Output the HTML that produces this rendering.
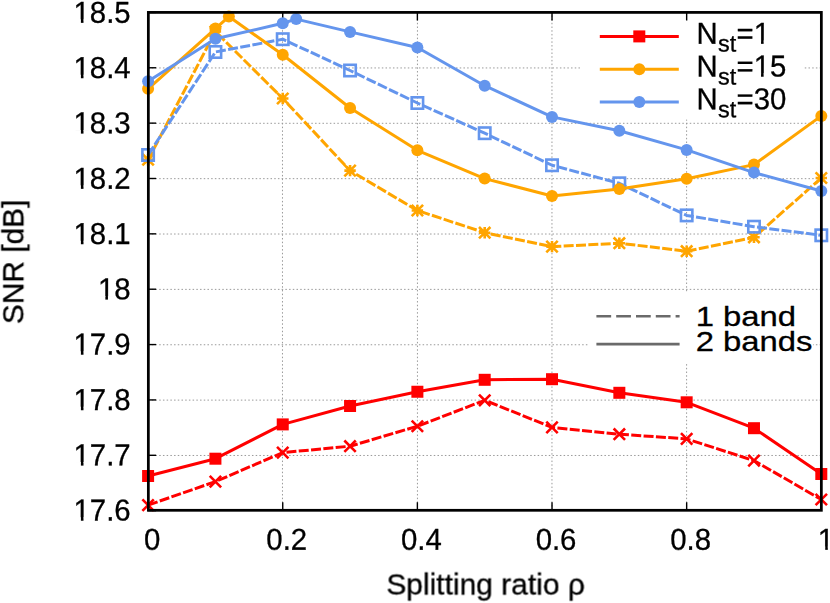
<!DOCTYPE html>
<html lang="en"><head><meta charset="utf-8"><title>SNR vs splitting ratio</title>
<style>
html,body{margin:0;padding:0;background:#fff;}
body{width:830px;height:603px;overflow:hidden;}
svg{display:block;font-family:"Liberation Sans",sans-serif;}
text{font-family:"Liberation Sans",sans-serif;fill:#000;stroke:#000;stroke-width:0.3px;}
</style></head><body>
<svg width="830" height="603" viewBox="0 0 830 603">
<defs><filter id="gray" x="-5%" y="-5%" width="110%" height="110%" color-interpolation-filters="sRGB"><feColorMatrix type="saturate" values="0"/></filter></defs>
<rect x="0" y="0" width="830" height="603" fill="#fff"/>
<g stroke="#9a9a9a" stroke-width="1" stroke-dasharray="1.5 2.21" fill="none">
<path d="M148.10,455.47H821.30"/>
<path d="M148.10,400.11H821.30"/>
<path d="M148.10,344.75H821.30"/>
<path d="M148.10,289.39H821.30"/>
<path d="M148.10,234.03H821.30"/>
<path d="M148.10,178.67H821.30"/>
<path d="M148.10,123.31H821.30"/>
<path d="M148.10,67.95H821.30"/>
<path d="M282.47,510.30V12.40"/>
<path d="M417.45,510.30V12.40"/>
<path d="M551.96,510.30V12.40"/>
<path d="M686.60,510.30V12.40"/>
</g>
<rect x="582" y="14" width="221" height="105.5" fill="#fff"/>
<rect x="588" y="291.5" width="225" height="72.5" fill="#fff"/>
<g stroke="#000" stroke-width="1.4" fill="none">
<path d="M148.10,510.65h8"/>
<path d="M148.10,455.29h8"/>
<path d="M148.10,399.93h8"/>
<path d="M148.10,344.57h8"/>
<path d="M148.10,289.21h8"/>
<path d="M148.10,233.85h8"/>
<path d="M148.10,178.49h8"/>
<path d="M148.10,123.13h8"/>
<path d="M148.10,67.77h8"/>
<path d="M148.10,12.41h8"/>
<path d="M148.10,510.30v-8M148.10,12.40v8"/>
<path d="M282.74,510.30v-8M282.74,12.40v8"/>
<path d="M417.38,510.30v-8M417.38,12.40v8"/>
<path d="M552.02,510.30v-8M552.02,12.40v8"/>
<path d="M686.66,510.30v-8M686.66,12.40v8"/>
<path d="M821.30,510.30v-8M821.30,12.40v8"/>
</g>
<g stroke-linecap="butt">
<path d="M148.10,505.10 L215.42,481.60 L282.74,452.60 L350.06,446.20 L417.38,426.25 L484.70,400.30 L552.02,427.40 L619.34,434.20 L686.66,438.90 L753.98,460.60 L821.30,499.50" fill="none" stroke="#ff0000" stroke-width="3.0" stroke-linejoin="round" stroke-dasharray="10 2.36" stroke-dashoffset="0"/>
<path d="M142.40,499.40L153.80,510.80M142.40,510.80L153.80,499.40" stroke="#ff0000" stroke-width="2.6" fill="none"/>
<path d="M209.72,475.90L221.12,487.30M209.72,487.30L221.12,475.90" stroke="#ff0000" stroke-width="2.6" fill="none"/>
<path d="M277.04,446.90L288.44,458.30M277.04,458.30L288.44,446.90" stroke="#ff0000" stroke-width="2.6" fill="none"/>
<path d="M344.36,440.50L355.76,451.90M344.36,451.90L355.76,440.50" stroke="#ff0000" stroke-width="2.6" fill="none"/>
<path d="M411.68,420.55L423.08,431.95M411.68,431.95L423.08,420.55" stroke="#ff0000" stroke-width="2.6" fill="none"/>
<path d="M479.00,394.60L490.40,406.00M479.00,406.00L490.40,394.60" stroke="#ff0000" stroke-width="2.6" fill="none"/>
<path d="M546.32,421.70L557.72,433.10M546.32,433.10L557.72,421.70" stroke="#ff0000" stroke-width="2.6" fill="none"/>
<path d="M613.64,428.50L625.04,439.90M613.64,439.90L625.04,428.50" stroke="#ff0000" stroke-width="2.6" fill="none"/>
<path d="M680.96,433.20L692.36,444.60M680.96,444.60L692.36,433.20" stroke="#ff0000" stroke-width="2.6" fill="none"/>
<path d="M748.28,454.90L759.68,466.30M748.28,466.30L759.68,454.90" stroke="#ff0000" stroke-width="2.6" fill="none"/>
<path d="M815.60,493.80L827.00,505.20M815.60,505.20L827.00,493.80" stroke="#ff0000" stroke-width="2.6" fill="none"/>
<path d="M148.10,159.70 L215.42,31.50 L282.74,98.50 L350.06,170.60 L417.38,210.50 L484.70,232.70 L552.02,246.60 L619.34,243.20 L686.66,251.20 L753.98,237.30 L821.30,178.00" fill="none" stroke="#ffa500" stroke-width="3.0" stroke-linejoin="round" stroke-dasharray="10 2.36" stroke-dashoffset="0.6"/>
<path d="M142.40,159.70L153.80,159.70M148.10,154.00L148.10,165.40M142.40,154.00L153.80,165.40M142.40,165.40L153.80,154.00" stroke="#ffa500" stroke-width="2.6" fill="none"/>
<path d="M209.72,31.50L221.12,31.50M215.42,25.80L215.42,37.20M209.72,25.80L221.12,37.20M209.72,37.20L221.12,25.80" stroke="#ffa500" stroke-width="2.6" fill="none"/>
<path d="M277.04,98.50L288.44,98.50M282.74,92.80L282.74,104.20M277.04,92.80L288.44,104.20M277.04,104.20L288.44,92.80" stroke="#ffa500" stroke-width="2.6" fill="none"/>
<path d="M344.36,170.60L355.76,170.60M350.06,164.90L350.06,176.30M344.36,164.90L355.76,176.30M344.36,176.30L355.76,164.90" stroke="#ffa500" stroke-width="2.6" fill="none"/>
<path d="M411.68,210.50L423.08,210.50M417.38,204.80L417.38,216.20M411.68,204.80L423.08,216.20M411.68,216.20L423.08,204.80" stroke="#ffa500" stroke-width="2.6" fill="none"/>
<path d="M479.00,232.70L490.40,232.70M484.70,227.00L484.70,238.40M479.00,227.00L490.40,238.40M479.00,238.40L490.40,227.00" stroke="#ffa500" stroke-width="2.6" fill="none"/>
<path d="M546.32,246.60L557.72,246.60M552.02,240.90L552.02,252.30M546.32,240.90L557.72,252.30M546.32,252.30L557.72,240.90" stroke="#ffa500" stroke-width="2.6" fill="none"/>
<path d="M613.64,243.20L625.04,243.20M619.34,237.50L619.34,248.90M613.64,237.50L625.04,248.90M613.64,248.90L625.04,237.50" stroke="#ffa500" stroke-width="2.6" fill="none"/>
<path d="M680.96,251.20L692.36,251.20M686.66,245.50L686.66,256.90M680.96,245.50L692.36,256.90M680.96,256.90L692.36,245.50" stroke="#ffa500" stroke-width="2.6" fill="none"/>
<path d="M748.28,237.30L759.68,237.30M753.98,231.60L753.98,243.00M748.28,231.60L759.68,243.00M748.28,243.00L759.68,231.60" stroke="#ffa500" stroke-width="2.6" fill="none"/>
<path d="M815.60,178.00L827.00,178.00M821.30,172.30L821.30,183.70M815.60,172.30L827.00,183.70M815.60,183.70L827.00,172.30" stroke="#ffa500" stroke-width="2.6" fill="none"/>
<path d="M148.10,155.00 L215.42,52.00 L282.74,39.20 L350.06,70.50 L417.38,103.00 L484.70,133.20 L552.02,165.25 L619.34,183.30 L686.66,215.40 L753.98,226.70 L821.30,235.30" fill="none" stroke="#6495ed" stroke-width="3.0" stroke-linejoin="round" stroke-dasharray="10 2.36" stroke-dashoffset="0"/>
<rect x="142.40" y="149.30" width="11.4" height="11.4" fill="none" stroke="#6495ed" stroke-width="2.6"/>
<rect x="209.72" y="46.30" width="11.4" height="11.4" fill="none" stroke="#6495ed" stroke-width="2.6"/>
<rect x="277.04" y="33.50" width="11.4" height="11.4" fill="none" stroke="#6495ed" stroke-width="2.6"/>
<rect x="344.36" y="64.80" width="11.4" height="11.4" fill="none" stroke="#6495ed" stroke-width="2.6"/>
<rect x="411.68" y="97.30" width="11.4" height="11.4" fill="none" stroke="#6495ed" stroke-width="2.6"/>
<rect x="479.00" y="127.50" width="11.4" height="11.4" fill="none" stroke="#6495ed" stroke-width="2.6"/>
<rect x="546.32" y="159.55" width="11.4" height="11.4" fill="none" stroke="#6495ed" stroke-width="2.6"/>
<rect x="613.64" y="177.60" width="11.4" height="11.4" fill="none" stroke="#6495ed" stroke-width="2.6"/>
<rect x="680.96" y="209.70" width="11.4" height="11.4" fill="none" stroke="#6495ed" stroke-width="2.6"/>
<rect x="748.28" y="221.00" width="11.4" height="11.4" fill="none" stroke="#6495ed" stroke-width="2.6"/>
<rect x="815.60" y="229.60" width="11.4" height="11.4" fill="none" stroke="#6495ed" stroke-width="2.6"/>
<path d="M148.10,476.00 L215.42,458.70 L282.74,424.40 L350.06,406.00 L417.38,391.75 L484.70,379.80 L552.02,379.20 L619.34,392.80 L686.66,402.30 L753.98,428.20 L821.30,474.00" fill="none" stroke="#ff0000" stroke-width="3.0" stroke-linejoin="round"/>
<rect x="142.10" y="470.00" width="12.0" height="12.0" fill="#ff0000"/>
<rect x="209.42" y="452.70" width="12.0" height="12.0" fill="#ff0000"/>
<rect x="276.74" y="418.40" width="12.0" height="12.0" fill="#ff0000"/>
<rect x="344.06" y="400.00" width="12.0" height="12.0" fill="#ff0000"/>
<rect x="411.38" y="385.75" width="12.0" height="12.0" fill="#ff0000"/>
<rect x="478.70" y="373.80" width="12.0" height="12.0" fill="#ff0000"/>
<rect x="546.02" y="373.20" width="12.0" height="12.0" fill="#ff0000"/>
<rect x="613.34" y="386.80" width="12.0" height="12.0" fill="#ff0000"/>
<rect x="680.66" y="396.30" width="12.0" height="12.0" fill="#ff0000"/>
<rect x="747.98" y="422.20" width="12.0" height="12.0" fill="#ff0000"/>
<rect x="815.30" y="468.00" width="12.0" height="12.0" fill="#ff0000"/>
<path d="M148.10,88.80 L215.42,28.60 L228.88,16.55 L282.74,54.80 L350.06,108.05 L417.38,150.30 L484.70,178.60 L552.02,196.00 L619.34,188.90 L686.66,178.70 L753.98,164.60 L821.30,115.90" fill="none" stroke="#ffa500" stroke-width="3.0" stroke-linejoin="round"/>
<circle cx="148.10" cy="88.80" r="6.0" fill="#ffa500"/>
<circle cx="215.42" cy="28.60" r="6.0" fill="#ffa500"/>
<circle cx="228.88" cy="16.55" r="6.0" fill="#ffa500"/>
<circle cx="282.74" cy="54.80" r="6.0" fill="#ffa500"/>
<circle cx="350.06" cy="108.05" r="6.0" fill="#ffa500"/>
<circle cx="417.38" cy="150.30" r="6.0" fill="#ffa500"/>
<circle cx="484.70" cy="178.60" r="6.0" fill="#ffa500"/>
<circle cx="552.02" cy="196.00" r="6.0" fill="#ffa500"/>
<circle cx="619.34" cy="188.90" r="6.0" fill="#ffa500"/>
<circle cx="686.66" cy="178.70" r="6.0" fill="#ffa500"/>
<circle cx="753.98" cy="164.60" r="6.0" fill="#ffa500"/>
<circle cx="821.30" cy="115.90" r="6.0" fill="#ffa500"/>
<path d="M148.10,81.20 L215.42,38.80 L282.74,23.30 L296.20,19.10 L350.06,31.90 L417.38,47.45 L484.70,85.70 L552.02,116.90 L619.34,130.80 L686.66,149.90 L753.98,172.60 L821.30,191.00" fill="none" stroke="#6495ed" stroke-width="3.0" stroke-linejoin="round"/>
<circle cx="148.10" cy="81.20" r="6.0" fill="#6495ed"/>
<circle cx="215.42" cy="38.80" r="6.0" fill="#6495ed"/>
<circle cx="282.74" cy="23.30" r="6.0" fill="#6495ed"/>
<circle cx="296.20" cy="19.10" r="6.0" fill="#6495ed"/>
<circle cx="350.06" cy="31.90" r="6.0" fill="#6495ed"/>
<circle cx="417.38" cy="47.45" r="6.0" fill="#6495ed"/>
<circle cx="484.70" cy="85.70" r="6.0" fill="#6495ed"/>
<circle cx="552.02" cy="116.90" r="6.0" fill="#6495ed"/>
<circle cx="619.34" cy="130.80" r="6.0" fill="#6495ed"/>
<circle cx="686.66" cy="149.90" r="6.0" fill="#6495ed"/>
<circle cx="753.98" cy="172.60" r="6.0" fill="#6495ed"/>
<circle cx="821.30" cy="191.00" r="6.0" fill="#6495ed"/>
</g>
<path d="M599.8,36.4H678.8" stroke="#ff0000" stroke-width="3.0" fill="none"/>
<rect x="633.30" y="30.40" width="12.0" height="12.0" fill="#ff0000"/>
<path d="M599.8,69.2H678.8" stroke="#ffa500" stroke-width="3.0" fill="none"/>
<circle cx="639.30" cy="69.20" r="6.0" fill="#ffa500"/>
<path d="M599.8,102.0H678.8" stroke="#6495ed" stroke-width="3.0" fill="none"/>
<circle cx="639.30" cy="102.00" r="6.0" fill="#6495ed"/>
<g filter="url(#gray)">
<text transform="translate(696.60,43.70) rotate(0.03) scale(1.0,1.035)" font-size="29.33" text-anchor="start">N</text>
<text transform="translate(718.08,51.60) rotate(0.03)" font-size="23.46">st</text>
<text transform="translate(736.53,43.70) rotate(0.03) scale(1.0,1.03)" font-size="29.33" text-anchor="start">=1</text>
<text transform="translate(696.60,76.50) rotate(0.03) scale(1.0,1.035)" font-size="29.33" text-anchor="start">N</text>
<text transform="translate(718.08,84.40) rotate(0.03)" font-size="23.46">st</text>
<text transform="translate(736.53,76.50) rotate(0.03) scale(1.0,1.03)" font-size="29.33" text-anchor="start">=15</text>
<text transform="translate(696.60,109.30) rotate(0.03) scale(1.0,1.035)" font-size="29.33" text-anchor="start">N</text>
<text transform="translate(718.08,117.20) rotate(0.03)" font-size="23.46">st</text>
<text transform="translate(736.53,109.30) rotate(0.03) scale(1.0,1.03)" font-size="29.33" text-anchor="start">=30</text>
</g>
<path d="M596.4,316.3H679.6" stroke="#6a6a6a" stroke-width="2.6" stroke-dasharray="14.75 5.05" fill="none"/>
<path d="M596.4,344.1H679.6" stroke="#6a6a6a" stroke-width="2.6" fill="none"/>
<text transform="translate(695.70,326.20) scale(1.12,0.95)" font-size="29.33" text-anchor="start" xml:space="preserve">1 band</text>
<text transform="translate(695.70,350.70) scale(1.12,0.95)" font-size="29.33" text-anchor="start" xml:space="preserve">2 bands</text>
<rect x="148.35" y="12.40" width="673.00" height="497.90" fill="none" stroke="#000" stroke-width="2.75"/>
<g filter="url(#gray)">
<text transform="translate(130.60,520.60) rotate(0.03) scale(1.0,1.03)" font-size="29.33" text-anchor="end">17.6</text>
<text transform="translate(130.60,465.28) rotate(0.03) scale(1.0,1.03)" font-size="29.33" text-anchor="end">17.7</text>
<text transform="translate(130.60,409.96) rotate(0.03) scale(1.0,1.03)" font-size="29.33" text-anchor="end">17.8</text>
<text transform="translate(130.60,354.63) rotate(0.03) scale(1.0,1.03)" font-size="29.33" text-anchor="end">17.9</text>
<text transform="translate(130.60,299.31) rotate(0.03) scale(1.0,1.03)" font-size="29.33" text-anchor="end">18</text>
<text transform="translate(130.60,243.99) rotate(0.03) scale(1.0,1.03)" font-size="29.33" text-anchor="end">18.1</text>
<text transform="translate(130.60,188.67) rotate(0.03) scale(1.0,1.03)" font-size="29.33" text-anchor="end">18.2</text>
<text transform="translate(130.60,133.34) rotate(0.03) scale(1.0,1.03)" font-size="29.33" text-anchor="end">18.3</text>
<text transform="translate(130.60,78.02) rotate(0.03) scale(1.0,1.03)" font-size="29.33" text-anchor="end">18.4</text>
<text transform="translate(130.60,22.70) rotate(0.03) scale(1.0,1.03)" font-size="29.33" text-anchor="end">18.5</text>
<text transform="translate(152.10,549.80) rotate(0.03) scale(1.0,1.03)" font-size="29.33" text-anchor="middle">0</text>
<text transform="translate(286.74,549.80) rotate(0.03) scale(1.0,1.03)" font-size="29.33" text-anchor="middle">0.2</text>
<text transform="translate(421.38,549.80) rotate(0.03) scale(1.0,1.03)" font-size="29.33" text-anchor="middle">0.4</text>
<text transform="translate(556.02,549.80) rotate(0.03) scale(1.0,1.03)" font-size="29.33" text-anchor="middle">0.6</text>
<text transform="translate(690.66,549.80) rotate(0.03) scale(1.0,1.03)" font-size="29.33" text-anchor="middle">0.8</text>
<text transform="translate(826.00,549.80) rotate(0.03) scale(1.0,1.03)" font-size="29.33" text-anchor="middle">1</text>
<text transform="translate(485.60,594.10) rotate(0.03) scale(1.022,1.02)" font-size="29.33" text-anchor="middle">Splitting ratio ρ</text>
<text transform="translate(23.30,261.90) rotate(-89.97) scale(1.02,1.035)" font-size="29.33" text-anchor="middle">SNR [dB]</text>
</g>
<g><rect x="754.23" y="40.44" width="6.80" height="5.46" fill="#fff"/><rect x="763.63" y="40.44" width="6.50" height="5.46" fill="#fff"/><rect x="754.23" y="73.24" width="6.80" height="5.46" fill="#fff"/><rect x="763.63" y="73.24" width="6.50" height="5.46" fill="#fff"/><rect x="74.10" y="517.34" width="6.80" height="5.46" fill="#fff"/><rect x="83.49" y="517.34" width="6.50" height="5.46" fill="#fff"/><rect x="74.10" y="462.02" width="6.80" height="5.46" fill="#fff"/><rect x="83.49" y="462.02" width="6.50" height="5.46" fill="#fff"/><rect x="74.10" y="406.70" width="6.80" height="5.46" fill="#fff"/><rect x="83.49" y="406.70" width="6.50" height="5.46" fill="#fff"/><rect x="74.10" y="351.38" width="6.80" height="5.46" fill="#fff"/><rect x="83.49" y="351.38" width="6.50" height="5.46" fill="#fff"/><rect x="98.56" y="296.05" width="6.80" height="5.46" fill="#fff"/><rect x="107.95" y="296.05" width="6.50" height="5.46" fill="#fff"/><rect x="74.10" y="240.73" width="6.80" height="5.46" fill="#fff"/><rect x="83.49" y="240.73" width="6.50" height="5.46" fill="#fff"/><rect x="74.10" y="185.41" width="6.80" height="5.46" fill="#fff"/><rect x="83.49" y="185.41" width="6.50" height="5.46" fill="#fff"/><rect x="74.10" y="130.09" width="6.80" height="5.46" fill="#fff"/><rect x="83.49" y="130.09" width="6.50" height="5.46" fill="#fff"/><rect x="74.10" y="74.77" width="6.80" height="5.46" fill="#fff"/><rect x="83.49" y="74.77" width="6.50" height="5.46" fill="#fff"/><rect x="74.10" y="19.44" width="6.80" height="5.46" fill="#fff"/><rect x="83.49" y="19.44" width="6.50" height="5.46" fill="#fff"/><rect x="818.42" y="546.54" width="6.80" height="5.46" fill="#fff"/><rect x="827.81" y="546.54" width="6.50" height="5.46" fill="#fff"/></g>
</svg></body></html>
